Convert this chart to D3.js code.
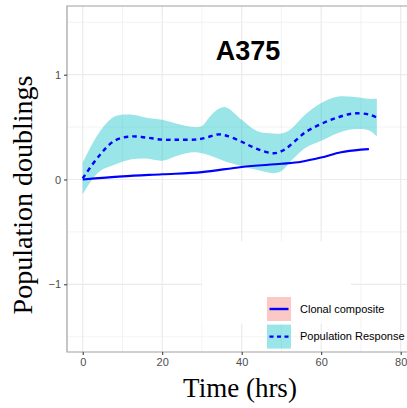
<!DOCTYPE html>
<html>
<head>
<meta charset="utf-8">
<script src="https://cdn.jsdelivr.net/npm/d3@7"></script>
<style>
  html, body { margin: 0; padding: 0; background: #fff; }
  svg { display: block; }
</style>
</head>
<body>
<svg id="chart" width="407" height="408"></svg>
<script>
// Population response: smoothed mean with confidence ribbon (hours, doublings)
const respTime  = [0, 4, 8, 12, 16, 20, 24, 28, 30, 32, 34, 36, 40, 44, 48, 50, 52, 56, 60, 64, 68, 72, 74];
const respMean  = [0.01, 0.22, 0.37, 0.41, 0.40, 0.38, 0.38, 0.38, 0.39, 0.41, 0.43, 0.42, 0.36, 0.29, 0.25, 0.27, 0.32, 0.45, 0.53, 0.59, 0.63, 0.62, 0.59];
const respUpper = [0.16, 0.44, 0.60, 0.62, 0.59, 0.57, 0.53, 0.50, 0.51, 0.60, 0.67, 0.69, 0.57, 0.46, 0.44, 0.44, 0.47, 0.62, 0.73, 0.79, 0.79, 0.77, 0.77];
const respLower = [-0.14, 0.07, 0.14, 0.19, 0.20, 0.18, 0.23, 0.26, 0.25, 0.23, 0.20, 0.17, 0.13, 0.09, 0.06, 0.08, 0.16, 0.30, 0.37, 0.44, 0.48, 0.47, 0.41];

// Clonal composite trajectory
const clonalTime = [0, 10, 20, 30, 40, 50, 55, 60, 65, 70, 72];
const clonalVal  = [0, 0.03, 0.05, 0.07, 0.12, 0.15, 0.17, 0.21, 0.26, 0.285, 0.29];

const xTicks = [0, 20, 40, 60, 80];
const xMinor = [10, 30, 50, 70];
const yTicks = [-1, 0, 1];
const yMinor = [-1.5, -0.5, 0.5, 1.5];
const yTickLabels = ["\u22121", "0", "1"];

const legendLabels = ["Clonal composite", "Population Response"];
const titleText = "A375";
const xTitle = "Time (hrs)";
const yTitle = "Population doublings";

const svg = d3.select("#chart");
const panel = { left: 67, top: 6, right: 430, bottom: 352 };

const x = d3.scaleLinear().domain([0, 80]).range([82.7, 400.7]);
const y = d3.scaleLinear().domain([-1, 1]).range([284.3, 74.7]);

// panel background
svg.append("rect")
  .attr("x", panel.left).attr("y", panel.top)
  .attr("width", panel.right - panel.left).attr("height", panel.bottom - panel.top)
  .attr("fill", "#fff");

const grid = svg.append("g");
grid.selectAll("line.xminor").data(xMinor).join("line")
  .attr("x1", d => x(d)).attr("x2", d => x(d))
  .attr("y1", panel.top).attr("y2", panel.bottom)
  .attr("stroke", "#f0f0f0").attr("stroke-width", 0.8);
grid.selectAll("line.yminor").data(yMinor).join("line")
  .attr("y1", d => y(d)).attr("y2", d => y(d))
  .attr("x1", panel.left).attr("x2", panel.right)
  .attr("stroke", "#f0f0f0").attr("stroke-width", 0.8);
grid.selectAll("line.xmajor").data(xTicks).join("line")
  .attr("x1", d => x(d)).attr("x2", d => x(d))
  .attr("y1", panel.top).attr("y2", panel.bottom)
  .attr("stroke", "#ebebeb").attr("stroke-width", 1.2);
grid.selectAll("line.ymajor").data(yTicks).join("line")
  .attr("y1", d => y(d)).attr("y2", d => y(d))
  .attr("x1", panel.left).attr("x2", panel.right)
  .attr("stroke", "#ebebeb").attr("stroke-width", 1.2);

// white legend backdrop over the grid
svg.append("rect")
  .attr("x", 202).attr("y", 241.5).attr("width", 149).attr("height", 82)
  .attr("fill", "#fff");

// ribbon
const resp = respTime.map((t, i) => ({ t, m: respMean[i], hi: respUpper[i], lo: respLower[i] }));
const area = d3.area()
  .x(d => x(d.t)).y0(d => y(d.lo)).y1(d => y(d.hi))
  .curve(d3.curveCatmullRom.alpha(0.5));
svg.append("path").datum(resp)
  .attr("d", area)
  .attr("fill", "#00BFC4").attr("fill-opacity", 0.4);

// clonal composite line
const clonal = clonalTime.map((t, i) => ({ t, v: clonalVal[i] }));
svg.append("path").datum(clonal)
  .attr("d", d3.line().x(d => x(d.t)).y(d => y(d.v)).curve(d3.curveCatmullRom.alpha(0.5)))
  .attr("fill", "none").attr("stroke", "#0000ff").attr("stroke-width", 2.1);

// population response mean
svg.append("path").datum(resp)
  .attr("d", d3.line().x(d => x(d.t)).y(d => y(d.m)).curve(d3.curveCatmullRom.alpha(0.5)))
  .attr("fill", "none").attr("stroke", "#0000ff").attr("stroke-width", 2.4)
  .attr("stroke-dasharray", "4.5,4");

// panel border (left, top, bottom)
svg.append("path")
  .attr("d", `M${panel.right},${panel.top}H${panel.left}V${panel.bottom}H${panel.right}`)
  .attr("fill", "none").attr("stroke", "#a0a0a0").attr("stroke-width", 1.2);

// axes
const xAxis = svg.append("g").attr("transform", `translate(0,${panel.bottom})`)
  .call(d3.axisBottom(x).tickValues(xTicks).tickSize(3).tickPadding(3));
const yAxis = svg.append("g").attr("transform", `translate(${panel.left},0)`)
  .call(d3.axisLeft(y).tickValues(yTicks).tickSize(3).tickPadding(3)
    .tickFormat((d, i) => yTickLabels[i]));
[xAxis, yAxis].forEach(g => {
  g.select(".domain").remove();
  g.selectAll(".tick line").attr("stroke", "#333").attr("stroke-width", 1);
  g.selectAll(".tick text")
    .attr("fill", "#4d4d4d")
    .style("font-family", "'Liberation Sans', Arial, sans-serif")
    .style("font-size", "11px");
});

// title
svg.append("text")
  .attr("x", 248).attr("y", 60)
  .attr("text-anchor", "middle")
  .style("font-family", "'Liberation Sans', Arial, sans-serif")
  .style("font-weight", "bold").style("font-size", "27px")
  .attr("fill", "#000")
  .text(titleText);

// axis titles
svg.append("text")
  .attr("x", 240).attr("y", 397)
  .attr("text-anchor", "middle")
  .style("font-family", "'Liberation Serif', 'Times New Roman', serif")
  .style("font-size", "27px")
  .attr("fill", "#000")
  .text(xTitle);
svg.append("text")
  .attr("transform", "translate(32,195) rotate(-90)")
  .attr("text-anchor", "middle")
  .style("font-family", "'Liberation Serif', 'Times New Roman', serif")
  .style("font-size", "28px")
  .attr("fill", "#000")
  .text(yTitle);

// legend
const legend = svg.append("g").attr("transform", "translate(267,297)");
const keyFill = ["#F8766D", "#00BFC4"];
const keyDash = [null, "4,3.5"];
legendLabels.forEach((lab, i) => {
  const g = legend.append("g").attr("transform", `translate(0,${i * 27.6})`);
  g.append("rect").attr("width", 24).attr("height", 24)
    .attr("fill", keyFill[i]).attr("fill-opacity", 0.4);
  g.append("line").attr("x1", 2.5).attr("x2", 21.5).attr("y1", 12).attr("y2", 12)
    .attr("stroke", "#0000ff").attr("stroke-width", 2.4)
    .attr("stroke-dasharray", keyDash[i]);
  g.append("text").attr("x", 33).attr("y", 12).attr("dy", "0.35em")
    .style("font-family", "'Liberation Sans', Arial, sans-serif")
    .style("font-size", "11px").attr("fill", "#000")
    .text(lab);
});
</script>
</body>
</html>
